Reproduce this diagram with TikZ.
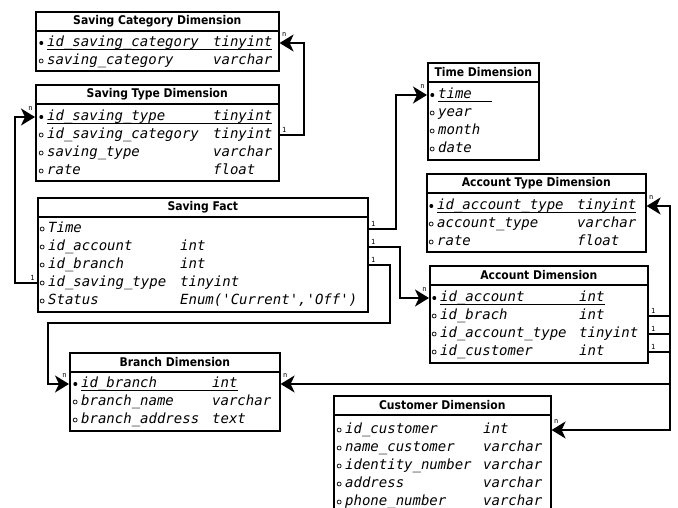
\documentclass[tikz,border=0pt]{standalone}
\usepackage{fontspec}
\setmonofont{DejaVu Sans Mono}
\newfontfamily\headfont[FakeStretch=0.9]{DejaVu Sans}
\usetikzlibrary{arrows.meta,calc,positioning}

\tikzset{
 tabbox/.style={draw, line width=1.6pt, anchor=north west, inner sep=0pt},
 tabline/.style={line width=1.6pt},
 headtxt/.style={font=\headfont\bfseries\fontsize{12}{14}\selectfont, inner sep=0pt},
 fld/.style={font=\ttfamily\itshape\fontsize{14}{16}\selectfont, anchor=west, inner sep=0pt, text height=10pt, text depth=3pt},
 keydot/.style={circle, fill, inner sep=0pt, minimum size=4pt},
 attdot/.style={circle, draw, line width=0.7pt, inner sep=0pt, minimum size=4pt},
 uline/.style={line width=0.8pt},
 link/.style={line width=1.8pt, -{Stealth[length=14pt,width=17pt,inset=4pt]}},
 one/.style={font=\ttfamily\fontsize{7}{7}\selectfont, inner sep=1.5pt},
 many/.style={font=\ttfamily\fontsize{7}{7}\selectfont, inner sep=1.5pt, yshift=4pt}
}
\newcommand{\enumst}{Enum('Current','Off')}
\newcommand{\dimbox}[6]{%
 \node[tabbox, minimum width=#4, minimum height=#5] (#1) at (#2,#3) {};
 \node[headtxt] (#1-h) at ($(#1.north)+(0,10)$) {#6};
 \draw[tabline] ($(#1.north west)+(0,20)$) -- ($(#1.north east)+(0,20)$);
}
\newcommand{\dimrows}[5]{%
 \foreach \mk/\fn/\ft [count=\i] in {#5} {
  \node[fld] (#1-\i) at (#2,{#4+18*(\i-1)}) {\fn};
  \node[fld] (#1-\i-t) at (#3,{#4+18*(\i-1)}) {\ft};
  \node[\mk, left=3.5pt of #1-\i] (#1-\i-m) {};
 }}

\begin{document}
\begin{tikzpicture}[x=1pt, y=-1pt]
\fill[white] (0,0) rectangle (678,508);
\useasboundingbox (0,0) rectangle (678,508);

\dimbox{scd}{35}{11}{243}{59}{Saving Category Dimension}
\dimrows{scd}{47}{213}{43}{keydot/id\_saving\_category/tinyint, attdot/saving\_category/varchar}

\dimbox{std}{35}{84}{243}{96}{Saving Type Dimension}
\dimrows{std}{47}{213}{117}{keydot/id\_saving\_type/tinyint, attdot/id\_saving\_category/tinyint, attdot/saving\_type/varchar, attdot/rate/float}

\dimbox{sf}{37}{197}{330}{114}{Saving Fact}
\dimrows{sf}{48}{180}{229}{attdot/Time/{}, attdot/id\_account/int, attdot/id\_branch/int, attdot/id\_saving\_type/tinyint, attdot/Status/\enumst}

\dimbox{td}{427}{62}{111}{97}{Time Dimension}
\dimrows{td}{438}{438}{95}{keydot/time/{}, attdot/year/{}, attdot/month/{}, attdot/date/{}}

\dimbox{atd}{426}{173}{219}{78}{Account Type Dimension}
\dimrows{atd}{437}{577}{206}{keydot/id\_account\_type/tinyint, attdot/account\_type/varchar, attdot/rate/float}

\dimbox{ad}{429}{265}{218}{97}{Account Dimension}
\dimrows{ad}{440}{579}{298}{keydot/id\_account/int, attdot/id\_brach/int, attdot/id\_account\_type/tinyint, attdot/id\_customer/int}

\dimbox{bd}{69}{352}{210}{78}{Branch Dimension}
\dimrows{bd}{81}{212}{384}{keydot/id\_branch/int, attdot/branch\_name/varchar, attdot/branch\_address/text}

\dimbox{cd}{333}{395}{217}{125}{Customer Dimension}
\dimrows{cd}{345}{483}{430}{attdot/id\_customer/int, attdot/name\_customer/varchar, attdot/identity\_number/varchar, attdot/address/varchar, attdot/phone\_number/varchar}

\draw[uline] (scd-1.south west) -- (scd-1-t.south east);
\draw[uline] (std-1.south west) -- (std-1-t.south east);
\draw[uline] (td-1.south west) -- ++(54,0);
\draw[uline] (atd-1.south west) -- (atd-1-t.south east);
\draw[uline] (ad-1.south west) -- (ad-1-t.south east);
\draw[uline] (bd-1.south west) -- (bd-1-t.south east);

\coordinate (bend) at (48,323);
\draw[link] (std.east |- std-2) node[one, above right] (l1) {1} -- ++(24,0) |- (scd.east |- scd-1) node[many, above right] (m1) {n};
\draw[link] (sf.west |- sf-4) node[one, above left] (l2) {1} -- ++(-22,0) |- (std.west |- std-1) node[many, above left] (m2) {n};
\draw[link] (sf.east |- sf-1) node[one, above right] (l3) {1} -- ++(27,0) |- (td.west |- td-1) node[many, above left] (m3) {n};
\draw[link] (sf.east |- sf-2) node[one, above right] (l4) {1} -- ++(31,0) |- (ad.west |- ad-1) node[many, above left] (m4) {n};
\draw[link] (sf.east |- sf-3) node[one, above right] (l5) {1} -- ++(21,0) |- (bend) |- (bd.west |- bd-1) node[many, above left] (m5) {n};
\draw[link] (ad.east |- ad-2) node[one, above right] (l6) {1} -- ++(21,0) |- (bd.east |- bd-1) node[many, above right] (m6) {n};
\draw[link] (ad.east |- ad-3) node[one, above right] (l7) {1} -- ++(21,0) |- (atd.east |- atd-1) node[many, above right] (m7) {n};
\draw[link] (ad.east |- ad-4) node[one, above right] (l8) {1} -- ++(21,0) |- (cd.east |- cd-1) node[many, above right] (m8) {n};
\end{tikzpicture}
\end{document}
